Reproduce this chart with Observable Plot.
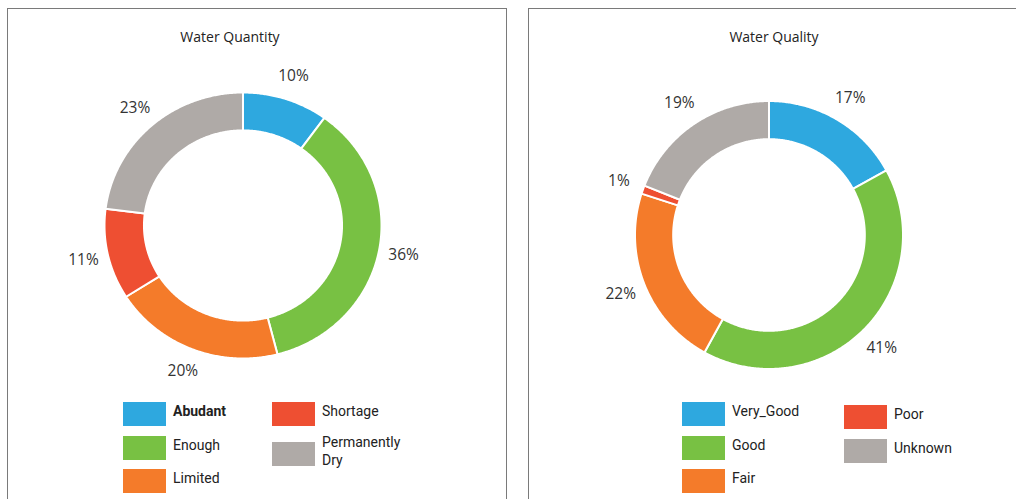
<!DOCTYPE html>
<html><head><meta charset="utf-8">
<script src="https://cdn.jsdelivr.net/npm/d3@7"></script>
<script src="https://cdn.jsdelivr.net/npm/@observablehq/plot@0.6"></script>
<style>
body{margin:0;width:1016px;height:499px;overflow:hidden;background:#fff;position:relative;font-family:Roboto,sans-serif;}
.panel{position:absolute;border:1px solid #7a7a7a;border-bottom:none;box-sizing:border-box;}
.title{position:absolute;font-family:"Open Sans",sans-serif;font-size:14px;line-height:18px;color:#222;transform:translateX(-50%);white-space:nowrap;}
.plotwrap{position:absolute;left:0;top:0;width:1016px;height:499px;}
.plotwrap svg{max-width:none;background:transparent;}
.leg{position:absolute;display:flex;align-items:center;}
.sw{width:43px;height:24px;flex:none;}
.lt{font-family:Roboto,sans-serif;font-size:14px;color:#222;line-height:18px;margin-left:7px;max-width:95px;position:relative;top:-3px;}
</style></head><body>
<script>
// ---- data ----
const quantityTitle = "Water Quantity";
const quantityCategories = ["Abudant", "Enough", "Limited", "Shortage", "Permanently Dry"];
const quantityValues = [10, 36, 20, 11, 23];

const qualityTitle = "Water Quality";
const qualityCategories = ["Very_Good", "Good", "Fair", "Poor", "Unknown"];
const qualityValues = [17, 41, 22, 1, 19];

const palette = ["#2ea8df", "#78c143", "#f47b2a", "#ee4f32", "#afaaa7"];

// ---- helpers ----
function ringPoints(cats, vals, inner) {
  const total = d3.sum(vals);
  let acc = 0;
  const pts = [];
  cats.forEach((c, i) => {
    const a0 = acc / total * 2 * Math.PI;
    acc += vals[i];
    const a1 = acc / total * 2 * Math.PI;
    const n = Math.max(2, Math.ceil((a1 - a0) / (Math.PI / 360)));
    const poly = [];
    for (let k = 0; k <= n; k++) { const a = a0 + (a1 - a0) * k / n; poly.push([Math.sin(a), Math.cos(a)]); }
    for (let k = n; k >= 0; k--) { const a = a0 + (a1 - a0) * k / n; poly.push([inner * Math.sin(a), inner * Math.cos(a)]); }
    poly.push(poly[0]);
    poly.forEach(p => pts.push({cat: c, x: p[0], y: p[1]}));
  });
  return pts;
}
function labelPoints(cats, vals, r) {
  const total = d3.sum(vals);
  let acc = 0;
  return cats.map((c, i) => {
    const mid = (acc + vals[i] / 2) / total * 2 * Math.PI;
    acc += vals[i];
    return {cat: c, x: r * Math.sin(mid), y: r * Math.cos(mid), label: Math.round(vals[i] / total * 100) + "%"};
  });
}

function addPanel(left, top, width) {
  const p = document.createElement("div");
  p.className = "panel";
  Object.assign(p.style, {left: left + "px", top: top + "px", width: width + "px", height: "520px"});
  document.body.appendChild(p);
}
function addTitle(text, cx, top) {
  const t = document.createElement("div");
  t.className = "title";
  t.textContent = text;
  Object.assign(t.style, {left: cx + "px", top: top + "px"});
  document.body.appendChild(t);
}
function addDonut(cats, vals, g) {
  const plot = Plot.plot({
    width: 1016, height: 499, margin: 0,
    style: {background: "transparent", overflow: "visible"},
    x: {domain: [-1, 1], range: [g.cx - g.rx, g.cx + g.rx], axis: null},
    y: {domain: [-1, 1], range: [g.cy + g.ry, g.cy - g.ry], axis: null},
    color: {domain: cats, range: palette},
    marks: [
      Plot.line(ringPoints(cats, vals, g.inner), {x: "x", y: "y", z: "cat", fill: "cat", stroke: "white", strokeWidth: 2, curve: "linear"}),
      Plot.text(labelPoints(cats, vals, g.labelR), {x: "x", y: "y", text: "label", fill: "#333", fontSize: 15.5, fontFamily: "Open Sans, sans-serif"})
    ]
  });
  const w = document.createElement("div");
  w.className = "plotwrap";
  w.appendChild(plot);
  document.body.appendChild(w);
}
function addLegend(cats, lay) {
  cats.forEach((c, i) => {
    const col = i < 3 ? 0 : 1;
    const row = i < 3 ? i : i - 3;
    const item = document.createElement("div");
    item.className = "leg";
    Object.assign(item.style, {left: lay.cols[col] + "px", top: (lay.tops[col] + row * lay.step) + "px"});
    const sw = document.createElement("div");
    sw.className = "sw";
    sw.style.background = palette[i];
    const tx = document.createElement("div");
    tx.className = "lt";
    tx.textContent = c;
    if (lay.bold && lay.bold(i)) tx.style.fontWeight = "700";
    item.appendChild(sw); item.appendChild(tx);
    document.body.appendChild(item);
  });
}

// ---- layout ----
addPanel(7, 8, 500);
addPanel(528, 8, 600);
addTitle(quantityTitle, 230, 28);
addTitle(qualityTitle, 774, 28);
addDonut(quantityCategories, quantityValues, {cx: 242.5, cy: 225, rx: 138.5, ry: 133, inner: 0.715, labelR: 1.18});
addDonut(qualityCategories, qualityValues, {cx: 768.5, cy: 234.5, rx: 134, ry: 134, inner: 0.715, labelR: 1.19});
addLegend(quantityCategories, {cols: [123, 272], tops: [402, 402], step: 33.5, bold: i => i === 0});
addLegend(qualityCategories, {cols: [682, 844], tops: [402, 405], step: 33.5});
</script>
</body></html>
